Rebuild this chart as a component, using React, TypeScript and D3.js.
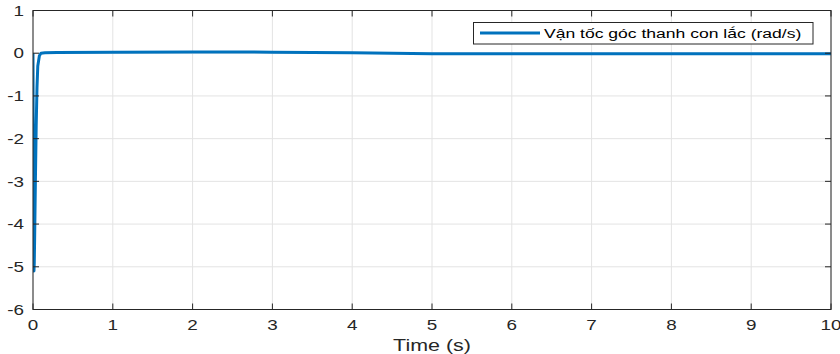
import React from "react";
import * as d3 from "d3";

const timeS = [0, 0.004, 0.008, 0.012, 0.016, 0.02, 0.03, 0.04, 0.05, 0.06, 0.08, 0.1, 0.15, 0.3, 1, 2, 3, 4, 5, 6, 7, 8, 9, 10];
const angVel = [0, -2.6, -4.6, -5.1, -4.9, -4.4, -3.0, -1.7, -0.8, -0.3, -0.06, 0.0, 0.01, 0.015, 0.02, 0.03, 0.025, 0.01, -0.01, -0.015, -0.015, -0.01, -0.01, -0.01];
const xTicks = [0, 1, 2, 3, 4, 5, 6, 7, 8, 9, 10];
const yTicks = [-6, -5, -4, -3, -2, -1, 0, 1];
const legendLabel = "Vận tốc góc thanh con lắc (rad/s)";
const xLabel = "Time (s)";

export default function App() {
  const W = 840, H = 354;
  const L = 33, R = 831, T = 10.5, B = 309.5;
  const SX = 1.3;
  const x = d3.scaleLinear().domain([0, 10]).range([L, R]);
  const y = d3.scaleLinear().domain([-6, 1]).range([B, T]);
  const data = timeS.map((t, i) => [t, angVel[i]] as [number, number]);
  const line = d3.line<[number, number]>().x(d => x(d[0])).y(d => y(d[1]));
  const font = "'Liberation Sans', Arial, Helvetica, sans-serif";
  const axisColor = "#262626";
  return (
    <svg width={W} height={H} style={{ position: "absolute", left: 0, top: 0 }} fontFamily={font}>
      <rect x={0} y={0} width={W} height={H} fill="#fff" />
      {xTicks.map(t => (
        <line key={"gx" + t} x1={x(t)} x2={x(t)} y1={T} y2={B} stroke="#e3e3e3" strokeWidth={1} />
      ))}
      {yTicks.map(t => (
        <line key={"gy" + t} x1={L} x2={R} y1={y(t)} y2={y(t)} stroke="#e3e3e3" strokeWidth={1} />
      ))}
      <defs>
        <clipPath id="clip">
          <rect x={L} y={T} width={R - L} height={B - T} />
        </clipPath>
      </defs>
      <path d={line(data) || ""} fill="none" stroke="#0072bd" strokeWidth={3} strokeLinejoin="round" clipPath="url(#clip)" />
      <rect x={L} y={T} width={R - L} height={B - T} fill="none" stroke={axisColor} strokeWidth={1} />
      {xTicks.map(t => (
        <g key={"tx" + t}>
          <line x1={x(t)} x2={x(t)} y1={B} y2={B - 6} stroke={axisColor} />
          <line x1={x(t)} x2={x(t)} y1={T} y2={T + 6} stroke={axisColor} />
          <text transform={`translate(${x(t)},330) scale(${SX},1)`} textAnchor="middle" fontSize={14.5} fill={axisColor}>{t}</text>
        </g>
      ))}
      {yTicks.map(t => (
        <g key={"ty" + t}>
          <line x1={L} x2={L + 6} y1={y(t)} y2={y(t)} stroke={axisColor} />
          <line x1={R} x2={R - 6} y1={y(t)} y2={y(t)} stroke={axisColor} />
          <text transform={`translate(24,${y(t) + 5.2}) scale(${SX},1)`} textAnchor="end" fontSize={14.5} fill={axisColor}>{t}</text>
        </g>
      ))}
      <text transform={`translate(${(L + R) / 2},350.5) scale(${SX},1)`} textAnchor="middle" fontSize={16.5} fill={axisColor}>{xLabel}</text>
      <g>
        <rect x={473.5} y={22.5} width={339.5} height={21.5} fill="#fff" stroke={axisColor} strokeWidth={1} />
        <line x1={480} x2={540} y1={33} y2={33} stroke="#0072bd" strokeWidth={3} />
        <text transform={`translate(544,38) scale(${SX},1)`} fontSize={13.5} fill="#000">{legendLabel}</text>
      </g>
    </svg>
  );
}
